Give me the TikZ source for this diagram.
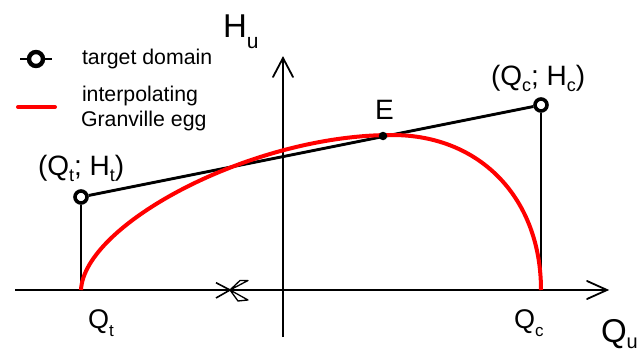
\documentclass[tikz,border=0pt]{standalone}
\usepackage{fontspec}
\setmainfont{Liberation Sans}
\newcommand{\fsz}[1]{\fontsize{#1}{#1}\selectfont}
\newcommand{\subs}[3]{\raisebox{-#2pt}{\fsz{#1}#3}}
\tikzset{
  axisline/.style={line width=1.8pt,black},
  openhead/.style={line width=1.8pt,black,line cap=round,line join=miter},
  domline/.style={line width=2.9pt,black},
  eggline/.style={line width=4pt,red},
  ring/.style={circle,draw=black,fill=white,line width=3.6pt,minimum size=12pt,inner sep=0pt},
  legring/.style={circle,draw=black,fill=white,line width=4.4pt,minimum size=14pt,inner sep=0pt},
  dot/.style={circle,fill=black,minimum size=8.5pt,inner sep=0pt},
  lab/.style={anchor=base west,inner sep=0pt,outer sep=0pt,text=black},
}
\begin{document}
\begin{tikzpicture}[x=1pt,y=-1pt]
\useasboundingbox (0,0) rectangle (643,353);
\clip (0,0) rectangle (643,353);
% axes
\coordinate (xs) at (15,290); \coordinate (xe) at (607,290);
\coordinate (ys) at (283,337); \coordinate (ye) at (283,58);
\coordinate (qt) at (81,290); \coordinate (qc) at (541,290);
\coordinate (top) at (392,135);
\draw[axisline] (xs) -- (xe);
\draw[axisline] (ys) -- (ye);
\draw[openhead] (587,281) -- (xe) -- (587,299);
\draw[openhead] (273,77) -- (ye) -- (293,77);
% axis break mark
\draw[line width=1.6pt,line join=round] (216,282.7) -- (230,290) -- (216,298);
\draw[line width=1.3pt,line join=round] (230,290) -- (240,280.5) -- (248,280.5) -- cycle;
\draw[line width=1.3pt,line join=round] (230,290) -- (238,301) -- (248,300) -- cycle;
% domain
\node[ring] (tp) at (81,197) {};
\node[ring] (cp) at (541,105) {};
\draw[domline] (tp) -- (cp);
\draw[domline] (tp) -- (qt);
\draw[domline] (cp) -- (qc);
% egg
\draw[eggline] (qt) .. controls (84,225) and (250,135) .. (top)
   .. controls (482,135) and (541,200) .. (qc);
\node[dot] (E) at (383,136) {};
% legend
\coordinate (l1a) at (20,59); \coordinate (l1b) at (52,59);
\coordinate (l2a) at (18,107); \coordinate (l2b) at (55,107);
\draw[domline] (l1a) -- (l1b);
\node[legring] (lr) at (36,59) {};
\draw[eggline,line cap=round] (l2a) -- (l2b);
\node[lab] (t1) at (82,65) {\fsz{21.3}target domain};
\node[lab] (t2) at (82,102) {\fsz{21.3}interpolating};
\node[lab] (t3) at (81,126.5) {\fsz{21.3}Granville egg};
% labels
\node[lab] (hu) at (223,38) {\fsz{33}H\subs{21}{11}{u}};
\node[lab] (qu) at (601,342) {\fsz{33}Q\subs{20}{6}{u}};
\node[lab] (ql) at (88,328) {\fsz{27}Q\subs{17}{8}{t}};
\node[lab] (qr) at (514,328) {\fsz{27}Q\subs{17}{8}{c}};
\node[lab] (el) at (375,120) {\fsz{28}E};
\node[lab] (tl) at (38,175.5) {\fsz{28}(Q\subs{18}{6}{t}; H\subs{18}{6}{t})};
\node[lab] (cl) at (491,85) {\fsz{28}(Q\subs{18}{6}{c}; H\subs{18}{6}{c})};
\end{tikzpicture}
\end{document}
